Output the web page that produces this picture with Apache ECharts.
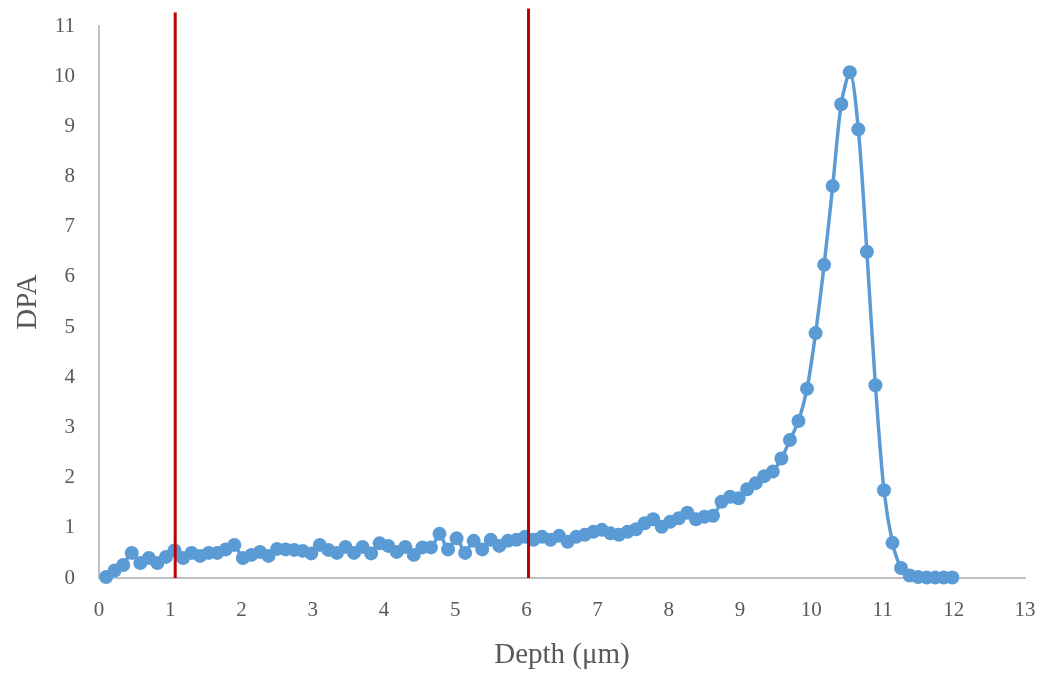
<!DOCTYPE html>
<html>
<head>
<meta charset="utf-8">
<script src="https://cdn.jsdelivr.net/npm/echarts@6/dist/echarts.min.js"></script>
<style>
  html, body { margin: 0; padding: 0; background: #fff; }
  #chart { width: 1041px; height: 673px; }
</style>
</head>
<body>
<div id="chart"></div>
<script>
// depth in µm
const depth = [
  0.1, 0.22, 0.34, 0.46, 0.58, 0.7, 0.82, 0.94, 1.06, 1.18,
  1.3, 1.42, 1.54, 1.66, 1.78, 1.9, 2.02, 2.14, 2.26, 2.38,
  2.5, 2.62, 2.74, 2.86, 2.98, 3.1, 3.22, 3.34, 3.46, 3.58,
  3.7, 3.82, 3.94, 4.06, 4.18, 4.3, 4.42, 4.54, 4.66, 4.78,
  4.9, 5.02, 5.14, 5.26, 5.38, 5.5, 5.62, 5.74, 5.86, 5.98,
  6.1, 6.22, 6.34, 6.46, 6.58, 6.7, 6.82, 6.94, 7.06, 7.18,
  7.3, 7.42, 7.54, 7.66, 7.78, 7.9, 8.02, 8.14, 8.26, 8.38,
  8.5, 8.62, 8.74, 8.86, 8.98, 9.1, 9.22, 9.34, 9.46, 9.58,
  9.7, 9.82, 9.94, 10.06, 10.18, 10.3, 10.42, 10.54, 10.66, 10.78,
  10.9, 11.02, 11.14, 11.26, 11.38, 11.5, 11.62, 11.74, 11.86, 11.98
]
const dpa = [
  0.02, 0.15, 0.26, 0.5, 0.3, 0.4, 0.3, 0.42, 0.55, 0.4,
  0.5, 0.44, 0.5, 0.5, 0.57, 0.66, 0.4, 0.46, 0.52, 0.44,
  0.58, 0.57, 0.56, 0.54, 0.49, 0.66, 0.56, 0.5, 0.62, 0.5,
  0.62, 0.49, 0.69, 0.64, 0.52, 0.62, 0.46, 0.61, 0.61, 0.88,
  0.57, 0.79, 0.5, 0.74, 0.57, 0.76, 0.64, 0.74, 0.76, 0.82,
  0.76, 0.82, 0.76, 0.84, 0.72, 0.82, 0.86, 0.92, 0.96, 0.89,
  0.86, 0.92, 0.97, 1.09, 1.17, 1.02, 1.12, 1.19, 1.3, 1.17,
  1.22, 1.24, 1.52, 1.62, 1.59, 1.77, 1.89, 2.03, 2.12, 2.38,
  2.75, 3.13, 3.77, 4.88, 6.24, 7.81, 9.44, 10.08, 8.94, 6.5,
  3.84, 1.75, 0.7, 0.2, 0.05, 0.02, 0.01, 0.01, 0.01, 0.01
]
// vertical marker lines (depth, top)
const boundaries = [[1.07, 11.27], [6.03, 11.35]]

const chart = echarts.init(document.getElementById('chart'))

const labelFont = { fontFamily: 'Liberation Serif', fontSize: 21, color: '#595959' }

const redLines = boundaries.map(b => ({
  type: 'line',
  data: [[b[0], 0], [b[0], b[1]]],
  symbol: 'none',
  clip: false,
  silent: true,
  z: 5,
  lineStyle: { color: '#C00000', width: 3 }
}))

chart.setOption({
  animation: false,
  grid: { left: 99, right: 16, top: 26, bottom: 95, outerBoundsMode: 'none' },
  xAxis: {
    type: 'value',
    min: 0,
    max: 13,
    interval: 1,
    name: 'Depth (μm)',
    nameLocation: 'middle',
    nameGap: 63,
    nameTextStyle: { fontFamily: 'Liberation Serif', fontSize: 29, color: '#595959' },
    axisLine: { lineStyle: { color: '#BFBFBF', width: 2 } },
    axisTick: { show: false },
    axisLabel: Object.assign({ margin: 22 }, labelFont),
    splitLine: { show: false }
  },
  yAxis: {
    type: 'value',
    min: 0,
    max: 11,
    interval: 1,
    name: 'DPA',
    nameLocation: 'middle',
    nameGap: 50,
    nameTextStyle: { fontFamily: 'Liberation Serif', fontSize: 29, color: '#595959' },
    axisLine: { show: true, lineStyle: { color: '#BFBFBF', width: 2 } },
    axisTick: { show: false },
    axisLabel: Object.assign({ margin: 24 }, labelFont),
    splitLine: { show: false }
  },
  series: [
    {
      type: 'line',
      data: depth.map((d, i) => [d, dpa[i]]),
      smooth: 0.3,
      symbol: 'circle',
      symbolSize: 14,
      z: 3,
      itemStyle: { color: '#5B9BD5' },
      lineStyle: { color: '#5B9BD5', width: 3.5 }
    },
    ...redLines
  ]
})
</script>
</body>
</html>
